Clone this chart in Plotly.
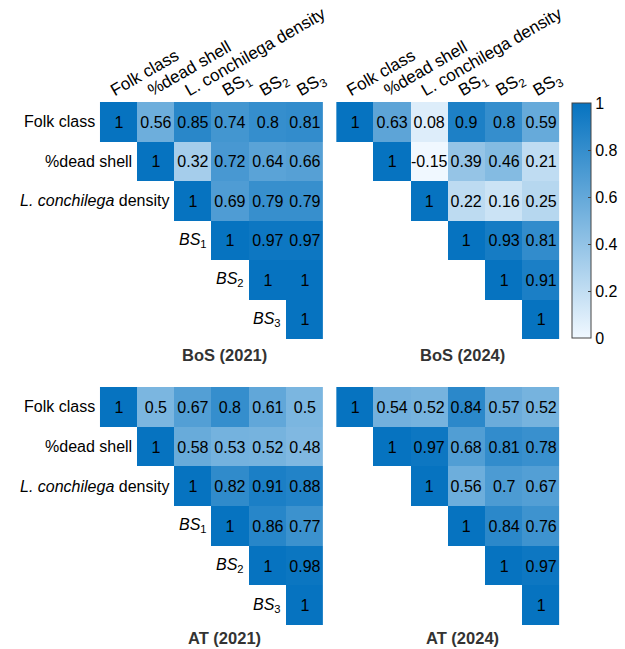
import plotly.graph_objects as go

# ---------------- data ----------------
col_labels = ["Folk class", "%dead shell", "L. conchilega density",
              "BS<sub>1</sub>", "BS<sub>2</sub>", "BS<sub>3</sub>"]
row_labels = ["Folk class", "%dead shell", "<i>L. conchilega</i> density",
              "<i>BS</i><sub>1</sub>", "<i>BS</i><sub>2</sub>", "<i>BS</i><sub>3</sub>"]

bos_2021 = [
    [1, 0.56, 0.85, 0.74, 0.8, 0.81],
    [None, 1, 0.32, 0.72, 0.64, 0.66],
    [None, None, 1, 0.69, 0.79, 0.79],
    [None, None, None, 1, 0.97, 0.97],
    [None, None, None, None, 1, 1],
    [None, None, None, None, None, 1],
]
bos_2024 = [
    [1, 0.63, 0.08, 0.9, 0.8, 0.59],
    [None, 1, -0.15, 0.39, 0.46, 0.21],
    [None, None, 1, 0.22, 0.16, 0.25],
    [None, None, None, 1, 0.93, 0.81],
    [None, None, None, None, 1, 0.91],
    [None, None, None, None, None, 1],
]
at_2021 = [
    [1, 0.5, 0.67, 0.8, 0.61, 0.5],
    [None, 1, 0.58, 0.53, 0.52, 0.48],
    [None, None, 1, 0.82, 0.91, 0.88],
    [None, None, None, 1, 0.86, 0.77],
    [None, None, None, None, 1, 0.98],
    [None, None, None, None, None, 1],
]
at_2024 = [
    [1, 0.54, 0.52, 0.84, 0.57, 0.52],
    [None, 1, 0.97, 0.68, 0.81, 0.78],
    [None, None, 1, 0.56, 0.7, 0.67],
    [None, None, None, 1, 0.84, 0.76],
    [None, None, None, None, 1, 0.97],
    [None, None, None, None, None, 1],
]
titles = ["BoS (2021)", "BoS (2024)", "AT (2021)", "AT (2024)"]

# ---------------- layout geometry ----------------
W, H = 625, 649
FONT = "Liberation Sans, Arial, sans-serif"
colorscale = [[0, "#F0F8FF"], [1, "#0673C0"]]

def px_x(p):
    return p / W

def px_y(p):
    return 1 - p / H

panels = [
    dict(data=bos_2021, x0=101, x1=327, y0=102, y1=339, cols=True, rows=True, cbar=False, tx=227, ty=355),
    dict(data=bos_2024, x0=340, x1=566, y0=102, y1=339, cols=True, rows=False, cbar=True, tx=468, ty=355),
    dict(data=at_2021, x0=101, x1=327, y0=387, y1=625, cols=False, rows=True, cbar=False, tx=227, ty=638),
    dict(data=at_2024, x0=340, x1=566, y0=387, y1=625, cols=False, rows=False, cbar=False, tx=468, ty=638),
]

fig = go.Figure()
annotations = []
idx = list(range(6))

for k, p in enumerate(panels):
    n = "" if k == 0 else str(k + 1)
    xa, ya = "x" + n, "y" + n
    text = [["" if v is None else f"{v:g}" for v in row] for row in p["data"]]
    hm = go.Heatmap(
        z=p["data"], x=idx, y=idx, text=text, texttemplate="%{text}",
        textfont=dict(size=16, color="black", family=FONT),
        colorscale=colorscale, zmin=0, zmax=1,
        showscale=p["cbar"], xaxis=xa, yaxis=ya, hoverongaps=False,
    )
    if p["cbar"]:
        hm.colorbar = dict(
            x=px_x(578), xanchor="left", y=px_y(103), yanchor="top",
            len=(338 - 103) / H, lenmode="fraction", thickness=19,
            outlinecolor="#444444", outlinewidth=1,
            tickvals=[0, 0.2, 0.4, 0.6, 0.8, 1],
            ticktext=["0", "0.2", "0.4", "0.6", "0.8", "1"],
            ticks="inside", ticklen=3, tickcolor="#444444",
            tickfont=dict(size=16, family=FONT, color="black"),
            xpad=0, ypad=0,
        )
    fig.add_trace(hm)
    xkey = "xaxis" + n
    ykey = "yaxis" + n
    fig.layout[xkey] = dict(
        domain=[px_x(p["x0"]), px_x(p["x1"])], anchor=ya,
        range=[-0.5, 5.5], side="top",
        tickvals=idx, ticktext=col_labels, showticklabels=p["cols"],
        tickangle=-30, tickfont=dict(size=17, family=FONT, color="black"),
        ticklabelshift=-8, ticklabelstandoff=0,
        showgrid=False, zeroline=False, showline=False, ticks="",
    )
    fig.layout[ykey] = dict(
        domain=[px_y(p["y1"]), px_y(p["y0"])], anchor=xa,
        range=[5.5, -0.5], showticklabels=False,
        showgrid=False, zeroline=False, showline=False, ticks="",
    )
    if p["rows"]:
        for i, lab in enumerate(row_labels):
            annotations.append(dict(
                x=i - 0.5, y=i, xref=xa, yref=ya, text=lab, showarrow=False,
                xanchor="right", yanchor="middle", xshift=-3,
                font=dict(size=16, family=FONT, color="black"),
            ))
    annotations.append(dict(
        x=px_x(p["tx"]), y=px_y(p["ty"]), xref="paper", yref="paper",
        text="<b>" + titles[k] + "</b>", showarrow=False,
        xanchor="center", yanchor="middle",
        font=dict(size=16.5, family=FONT, color="#333333"),
    ))

fig.update_layout(
    width=W, height=H, margin=dict(l=0, r=0, t=0, b=0),
    paper_bgcolor="white", plot_bgcolor="white",
    annotations=annotations, font=dict(family=FONT),
)

fig.write_html(
    "out.html",
    config={"displayModeBar": False},
    post_script="document.body.style.margin='0';document.body.style.overflow='hidden';",
)
